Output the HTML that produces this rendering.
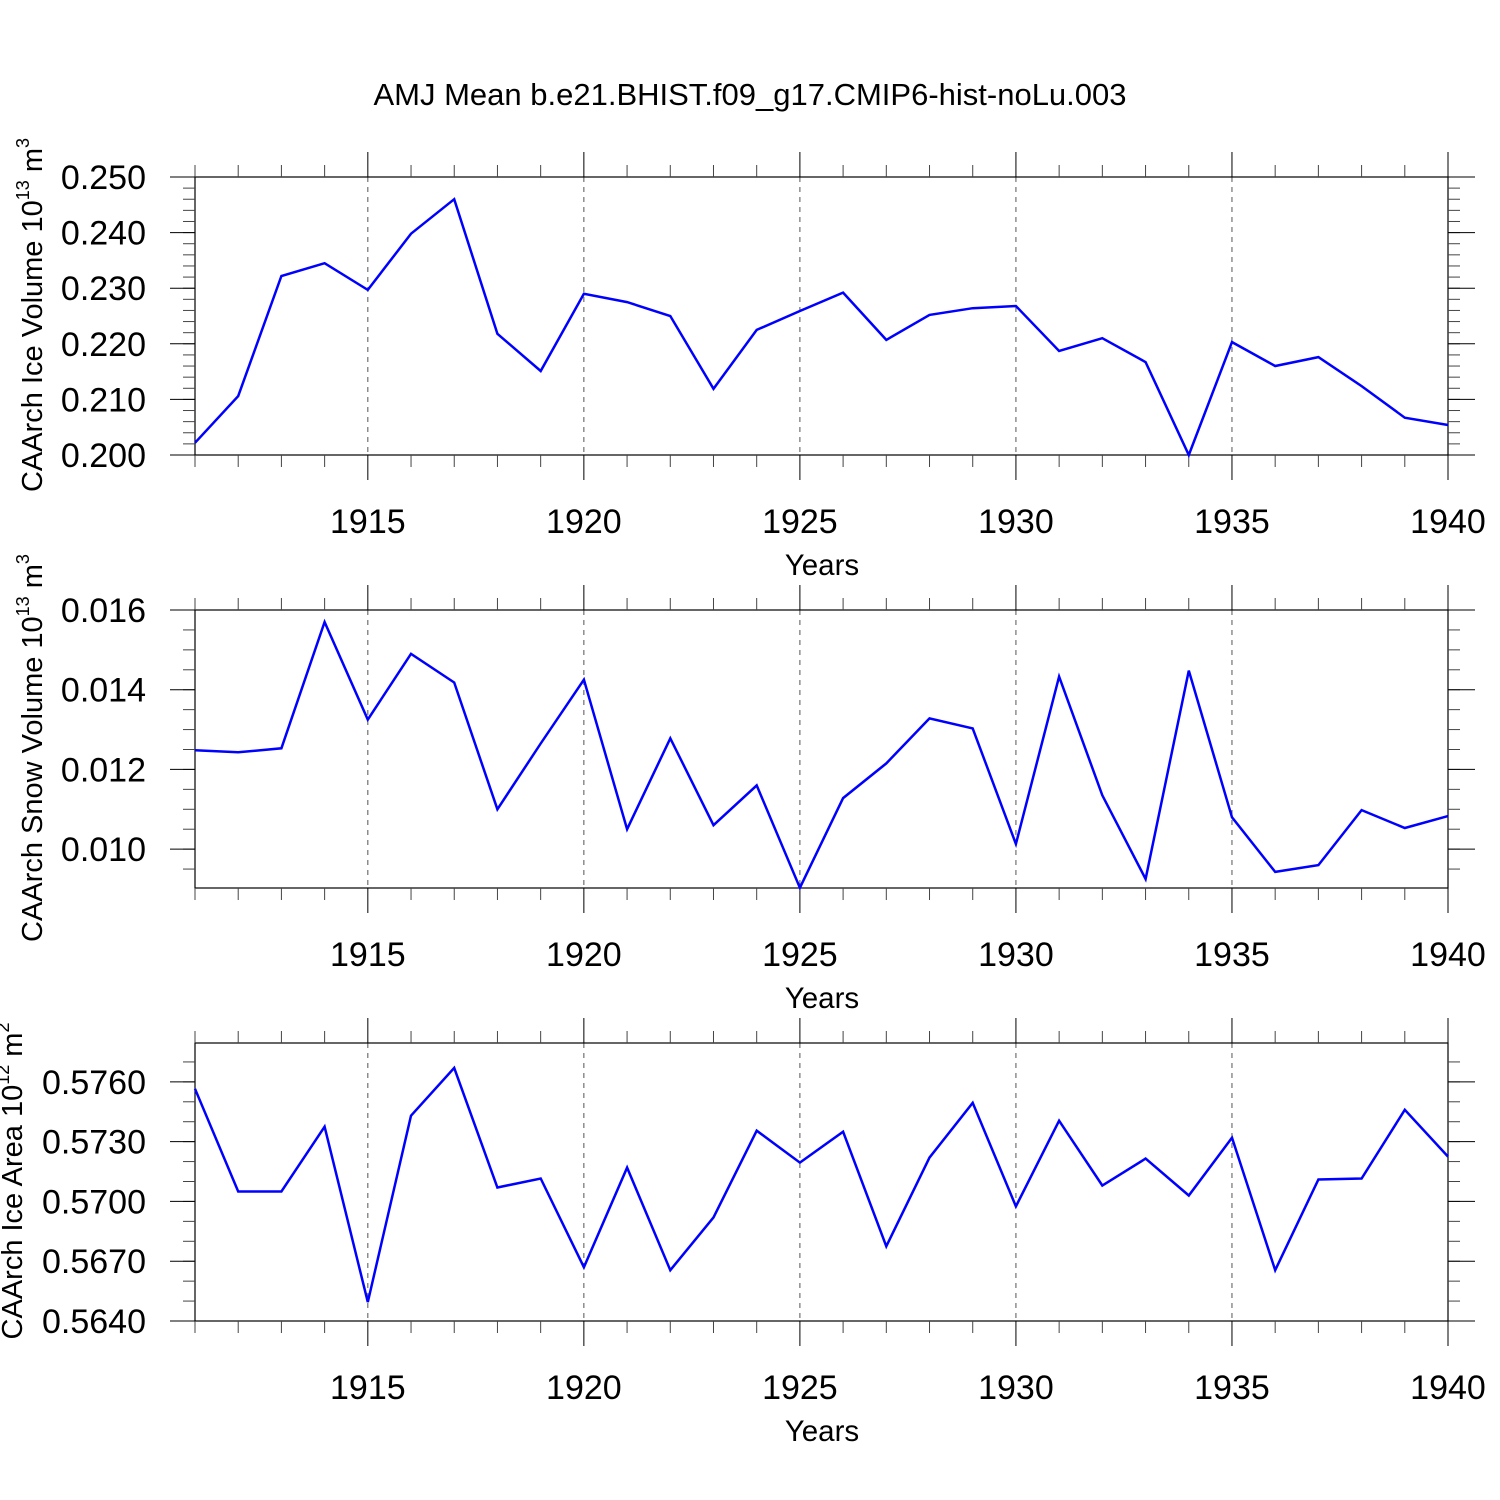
<!DOCTYPE html>
<html><head><meta charset="utf-8"><style>
html,body{margin:0;padding:0;background:#fff}
svg{display:block;font-family:"Liberation Sans",sans-serif}
</style></head><body>
<svg id="chart" width="1500" height="1500" viewBox="0 0 1500 1500">
<text x="750" y="105" font-size="31" text-anchor="middle">AMJ Mean b.e21.BHIST.f09_g17.CMIP6-hist-noLu.003</text>
</svg>
<script>
const years = [1911,1912,1913,1914,1915,1916,1917,1918,1919,1920,1921,1922,1923,1924,1925,1926,1927,1928,1929,1930,1931,1932,1933,1934,1935,1936,1937,1938,1939,1940];
const iceVolume = [0.2022,0.2106,0.2322,0.2345,0.2297,0.2398,0.2460,0.2218,0.2151,0.2290,0.2275,0.2250,0.2119,0.2225,0.2259,0.2292,0.2207,0.2252,0.2264,0.2268,0.2187,0.2210,0.2167,0.2000,0.2203,0.2160,0.2176,0.2124,0.2067,0.2054];
const snowVolume = [0.01248,0.01243,0.01253,0.01570,0.01325,0.01490,0.01418,0.01100,0.01265,0.01425,0.01050,0.01278,0.01060,0.01160,0.00903,0.01128,0.01215,0.01328,0.01303,0.01013,0.01433,0.01135,0.00925,0.01448,0.01080,0.00943,0.00960,0.01098,0.01053,0.01083];
const iceArea = [0.57565,0.5705,0.5705,0.57375,0.56495,0.5743,0.5767,0.5707,0.57115,0.5667,0.5717,0.56655,0.5692,0.57355,0.57195,0.5735,0.56775,0.5722,0.57495,0.56975,0.57405,0.5708,0.57215,0.5703,0.5732,0.56655,0.5711,0.57115,0.5746,0.57225];
const xTickLabels = ["1915","1920","1925","1930","1935","1940"];
const yTicks1 = [0.200,0.210,0.220,0.230,0.240,0.250];
const yTicks2 = [0.010,0.012,0.014,0.016];
const yTicks3 = [0.5640,0.5670,0.5700,0.5730,0.5760];

const svg = document.getElementById('chart');
const NS = 'http://www.w3.org/2000/svg';
function mk(tag, attrs, parent){const e=document.createElementNS(NS,tag);for(const k in attrs)e.setAttribute(k,attrs[k]);(parent||svg).appendChild(e);return e;}
const X0=195,X1=1448;
const xs = y => X0+(y-1911)/(1940-1911)*(X1-X0);

const panels = [
 {name:'ice-volume',top:177,bot:455,ymin:0.200,ymax:0.250,data:iceVolume,ticks:yTicks1,dec:3,minor:0.002,title:'CAArch Ice Volume 10',exp:'13',unit:' m',uexp:'3',tx:42},
 {name:'snow-volume',top:610,bot:888,ymin:0.009025,ymax:0.016,data:snowVolume,ticks:yTicks2,dec:3,minor:0.0005,title:'CAArch Snow Volume 10',exp:'13',unit:' m',uexp:'3',tx:42},
 {name:'ice-area',top:1043,bot:1321,ymin:0.5640,ymax:0.57795,data:iceArea,ticks:yTicks3,dec:4,minor:0.001,title:'CAArch Ice Area 10',exp:'12',unit:' m',uexp:'2',tx:22}
];
panels.forEach(p=>{
  const g=mk('g',{});
  
  
  const ys=v=>p.bot-(v-p.ymin)/(p.ymax-p.ymin)*(p.bot-p.top);
  for(let y=1915;y<1940;y+=5){
    const l=mk('line',{x1:xs(y),x2:xs(y),y1:p.top,y2:p.bot,stroke:'#555','stroke-width':1,'stroke-dasharray':'5,5'},g);
    
    
  }
  const fr=mk('rect',{x:X0,y:p.top,width:X1-X0,height:p.bot-p.top,fill:'none',stroke:'#000','stroke-width':1.2},g);
  
  
  years.forEach(y=>{
    const major=(y%5===0), len=major?25:12, x=xs(y);
    mk('line',{x1:x,x2:x,y1:p.top,y2:p.top-len,stroke:major?'#000':'#444','stroke-width':1},g);
    mk('line',{x1:x,x2:x,y1:p.bot,y2:p.bot+len,stroke:major?'#000':'#444','stroke-width':1},g);
  });
  xTickLabels.forEach(t=>{
    const tx=mk('text',{x:xs(+t),y:p.bot+78,'font-size':34,'text-anchor':'middle'},g);
    tx.textContent=t;
    
    
  });
  const xt=mk('text',{x:822,y:p.bot+120,'font-size':29.5,'text-anchor':'middle'},g);
  xt.textContent='Years';
  
  
  const n=Math.round((p.ymax-p.ticks[0])/p.minor);
  const nb=Math.round((p.ticks[0]-p.ymin)/p.minor);
  for(let i=-nb;i<=n;i++){
    const v=p.ticks[0]+i*p.minor; if(v<p.ymin-1e-9||v>p.ymax+1e-9)continue;
    const y=ys(v);
    mk('line',{x1:X0,x2:X0-12,y1:y,y2:y,stroke:'#444','stroke-width':1},g);
    mk('line',{x1:X1,x2:X1+12,y1:y,y2:y,stroke:'#444','stroke-width':1},g);
  }
  p.ticks.forEach(v=>{
    const y=ys(v);
    mk('line',{x1:X0,x2:X0-25,y1:y,y2:y,stroke:'#000','stroke-width':1},g);
    mk('line',{x1:X1,x2:X1+27,y1:y,y2:y,stroke:'#000','stroke-width':1},g);
    const t=mk('text',{x:146,y:y+12,'font-size':34,'text-anchor':'end'},g);
    t.textContent=v.toFixed(p.dec);
    
    
  });
  const cy=(p.top+p.bot)/2;
  const yt=mk('text',{x:0,y:0,'font-size':29,'text-anchor':'middle',transform:`translate(${p.tx},${cy-1}) rotate(-90)`},g);
  
  
  yt.innerHTML=`${p.title}<tspan dy="-13" font-size="18">${p.exp}</tspan><tspan dy="13">${p.unit}</tspan><tspan dy="-13" font-size="18">${p.uexp}</tspan>`;
  const pts=years.map((y,i)=>xs(y).toFixed(1)+','+ys(p.data[i]).toFixed(1)).join(' ');
  const pl=mk('polyline',{points:pts,fill:'none',stroke:'#0000ff','stroke-width':2.5,'stroke-linejoin':'miter'},g);
  
  
});
</script>
</body></html>
